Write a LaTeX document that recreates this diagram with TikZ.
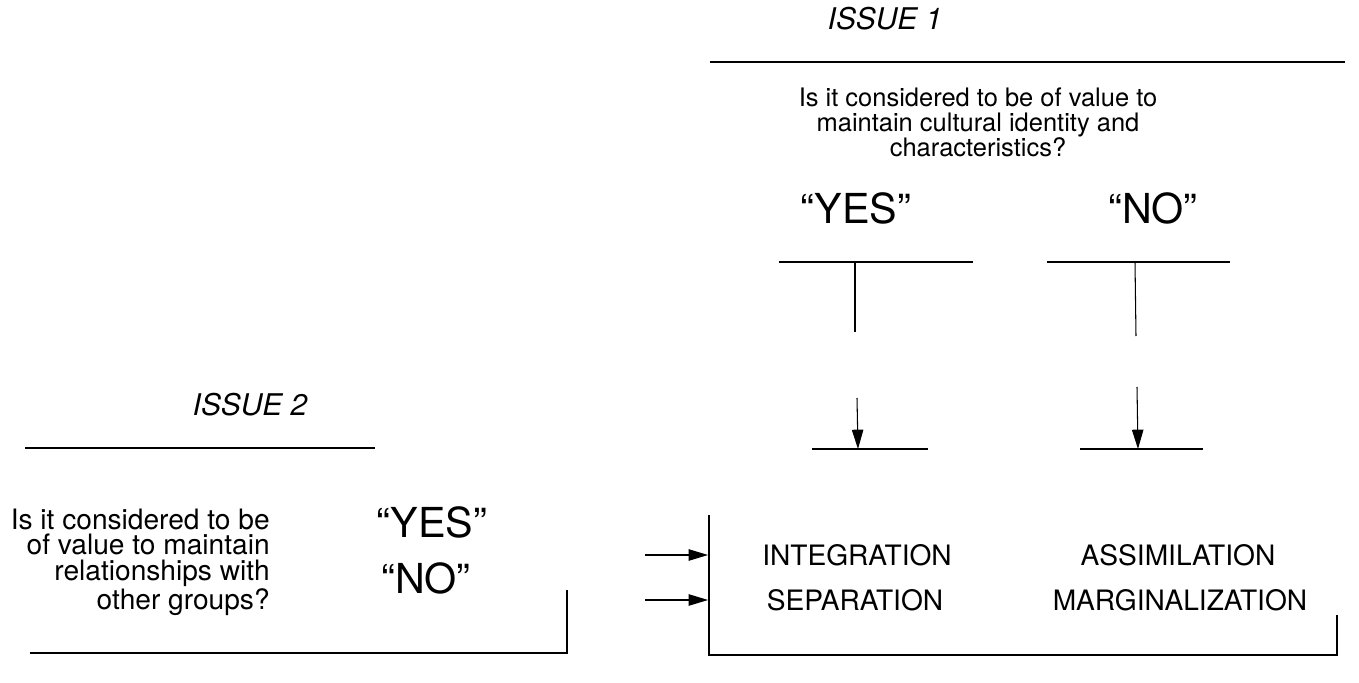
\documentclass[tikz,border=0pt]{standalone}
\usepackage{fontspec}
\setmainfont{TeX Gyre Heros}
\usetikzlibrary{positioning, arrows.meta}

\begin{document}
\begin{tikzpicture}[
    every node/.style={inner sep=0pt},
    issue/.style={font=\fontsize{17}{20}\selectfont\itshape},
    question/.style={font=\fontsize{14.5}{14.3}\selectfont, align=center},
    answer/.style={font=\fontsize{23.5}{28}\selectfont},
    outcome/.style={font=\fontsize{16}{18}\selectfont},
    rule/.style={line width=0.9pt},
    stub/.style={line width=0.6pt},
    >={Triangle[length=11pt,width=6.5pt]},
  ]
  \useasboundingbox (0,0) rectangle (27.18,13.64);

  % Issue 1
  \node[issue] (issue1) at (17.70,13.26) {ISSUE 1};
  \coordinate (r1a) at (14.20,12.40);
  \coordinate (r1b) at (26.90,12.40);
  \draw[rule] (r1a) -- (r1b);
  \node[question] (q1) at (19.56,11.20) {Is it considered to be of value to\\maintain cultural identity and\\characteristics?};

  % Yes / No of issue 1
  \node[answer] (yes1) at (17.12,9.48) {“YES”};
  \node[answer] (no1) at (23.06,9.48) {“NO”};
  \coordinate (yl) at (15.58,8.40);
  \coordinate (yr) at (19.46,8.40);
  \coordinate (nl) at (20.94,8.40);
  \coordinate (nr) at (24.60,8.40);
  \draw[rule] (yl) -- (yr);
  \draw[rule] (nl) -- (nr);
  \coordinate (ytop) at (17.10,8.40);
  \coordinate (ybot) at (17.10,7.00);
  \coordinate (ntop) at (22.70,8.40);
  \coordinate (nbot) at (22.72,6.92);
  \draw[stub] (ytop) -- (ybot);
  \draw[stub] (ntop) -- (nbot);

  % Arrows down
  \coordinate (ya) at (17.14,5.68);
  \coordinate (yb) at (17.16,4.66);
  \coordinate (na) at (22.74,5.90);
  \coordinate (nb) at (22.76,4.66);
  \coordinate (yl2) at (16.24,4.66);
  \coordinate (yr2) at (18.56,4.66);
  \coordinate (nl2) at (21.60,4.66);
  \coordinate (nr2) at (24.06,4.66);
  \draw[stub,->] (ya) -- (yb);
  \draw[stub,->] (na) -- (nb);
  \draw[rule] (yl2) -- (yr2);
  \draw[rule] (nl2) -- (nr2);

  % Issue 2
  \node[issue] (issue2) at (5.00,5.54) {ISSUE 2};
  \coordinate (r2a) at (0.50,4.68);
  \coordinate (r2b) at (7.50,4.68);
  \draw[rule] (r2a) -- (r2b);
  \node[question, font=\fontsize{16}{14.6}\selectfont, align=right, anchor=east] (q2) at (5.40,2.40)
    {Is it considered to be\\of value to maintain\\relationships with\\other groups?};
  \node[answer] (yes2) at (8.64,3.20) {“YES”};
  \node[answer] (no2) at (8.52,2.08) {“NO”};
  \coordinate (bl) at (0.60,0.58);
  \coordinate (bc) at (11.34,0.58);
  \coordinate (bt) at (11.34,1.84);
  \draw[rule] (bl) -- (bc) -- (bt);

  % Arrows right
  \coordinate (ia) at (12.90,2.54);
  \coordinate (ib) at (14.16,2.54);
  \coordinate (sa) at (12.90,1.64);
  \coordinate (sb) at (14.16,1.64);
  \draw[stub,->] (ia) -- (ib);
  \draw[stub,->] (sa) -- (sb);

  % Outcomes
  \coordinate (xtl) at (14.18,3.34);
  \coordinate (xbl) at (14.18,0.54);
  \coordinate (xbr) at (26.74,0.54);
  \coordinate (xtr) at (26.74,1.34);
  \draw[rule] (xtl) -- (xbl) -- (xbr) -- (xtr);
  \node[outcome] (integ) at (17.14,2.54) {INTEGRATION};
  \node[outcome] (assim) at (23.56,2.54) {ASSIMILATION};
  \node[outcome] (separ) at (17.10,1.64) {SEPARATION};
  \node[outcome] (margin) at (23.60,1.64) {MARGINALIZATION};
\end{tikzpicture}
\end{document}
